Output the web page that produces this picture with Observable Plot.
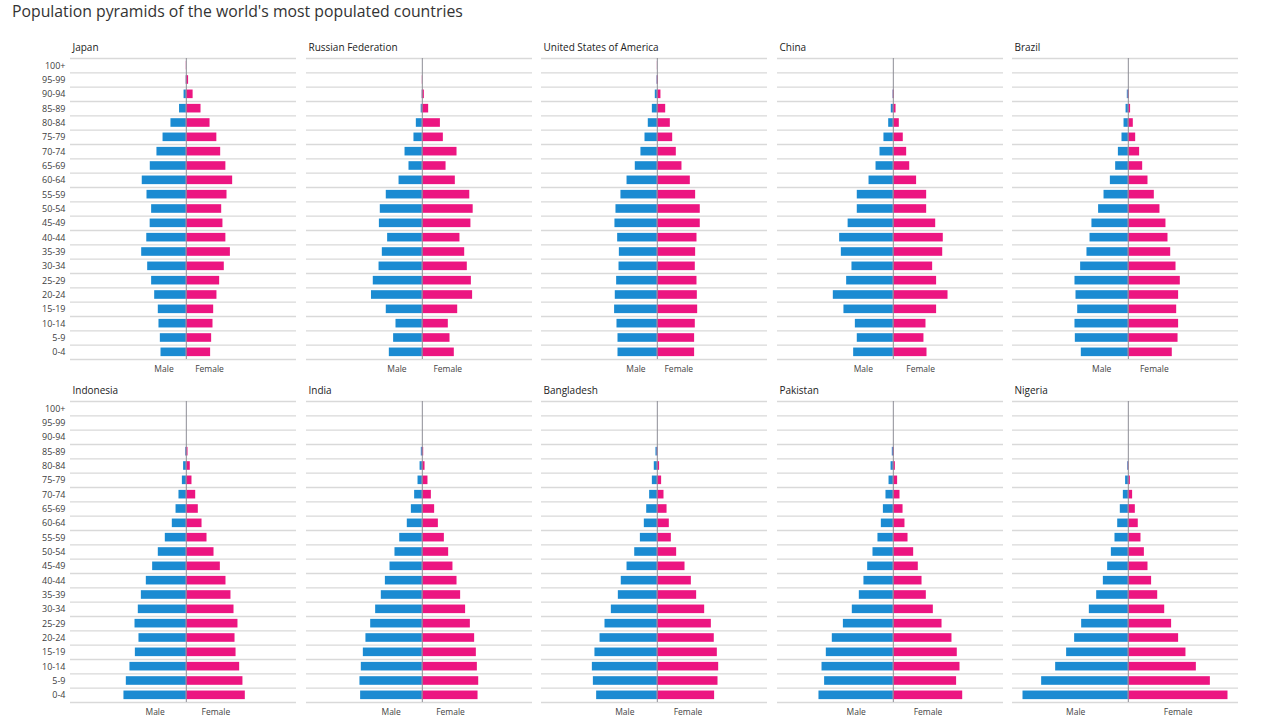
<!DOCTYPE html>
<html><head><meta charset="utf-8">
<script src="https://cdn.jsdelivr.net/npm/d3@7"></script>
<script src="https://cdn.jsdelivr.net/npm/@observablehq/plot@0.6"></script>
<style>
body{margin:0;background:#fff;width:1280px;height:720px;position:relative;overflow:hidden;font-family:"Open Sans",sans-serif}
#title{position:absolute;left:12px;top:0px;font-size:15.8px;color:#333;white-space:nowrap}
</style></head><body>
<div id="title">Population pyramids of the world's most populated countries</div>
<div id="chart"></div>
<script>
// Age groups, bottom (0-4) to top (100+)
const ageGroups = ["0-4","5-9","10-14","15-19","20-24","25-29","30-34","35-39","40-44","45-49","50-54","55-59","60-64","65-69","70-74","75-79","80-84","85-89","90-94","95-99","100+"];
const countries = ["Japan","Russian Federation","United States of America","China","Brazil","Indonesia","India","Bangladesh","Pakistan","Nigeria"];

// Share of total population (%), by age group (0-4 upward)
const japanMale     = [2.24,2.30,2.42,2.48,2.80,3.07,3.42,3.95,3.50,3.20,3.07,3.48,3.90,3.19,2.60,2.06,1.36,0.60,0.20,0.02,0];
const japanFemale   = [2.15,2.24,2.36,2.42,2.71,2.95,3.36,3.90,3.50,3.24,3.13,3.60,4.10,3.50,3.04,2.70,2.10,1.30,0.60,0.20,0.02];
const russiaMale    = [2.92,2.54,2.33,3.19,4.50,4.34,3.83,3.54,3.07,3.80,3.72,3.19,2.06,1.18,1.53,0.74,0.53,0.10,0.02,0,0];
const russiaFemale  = [2.83,2.45,2.30,3.13,4.45,4.34,3.98,3.75,3.33,4.30,4.50,4.20,2.92,2.10,3.07,1.86,1.60,0.56,0.18,0.03,0];
const usaMale       = [3.48,3.48,3.57,3.78,3.72,3.60,3.39,3.36,3.51,3.75,3.66,3.22,2.68,1.95,1.45,1.09,0.80,0.44,0.18,0.03,0];
const usaFemale     = [3.30,3.30,3.36,3.57,3.54,3.51,3.36,3.39,3.51,3.80,3.80,3.39,2.92,2.18,1.68,1.36,1.15,0.74,0.32,0.09,0.01];
const chinaMale     = [3.51,3.19,3.36,4.37,5.31,4.13,3.66,4.60,4.75,4.00,3.19,3.19,2.15,1.53,1.18,0.83,0.41,0.18,0.03,0,0];
const chinaFemale   = [2.98,2.71,2.89,3.83,4.84,3.83,3.48,4.37,4.42,3.75,2.95,2.95,2.06,1.45,1.18,0.88,0.53,0.24,0.09,0,0];
const brazilMale    = [4.16,4.69,4.72,4.48,4.63,4.72,4.22,3.66,3.39,3.22,2.63,2.15,1.59,1.12,0.88,0.56,0.38,0.20,0.09,0,0];
const brazilFemale  = [3.89,4.40,4.45,4.28,4.45,4.60,4.22,3.75,3.51,3.33,2.80,2.30,1.74,1.27,1.00,0.65,0.44,0.20,0.09,0,0];
const indonesiaMale   = [5.52,5.31,4.99,4.51,4.19,4.54,4.25,3.98,3.54,2.98,2.48,1.86,1.24,0.91,0.65,0.35,0.24,0.06,0,0,0];
const indonesiaFemale = [5.22,5.01,4.72,4.40,4.31,4.57,4.22,3.95,3.51,3.01,2.45,1.83,1.39,1.06,0.83,0.50,0.35,0.15,0,0,0];
const indiaMale     = [5.46,5.52,5.40,5.22,4.99,4.57,4.13,3.63,3.27,2.86,2.42,2.00,1.33,0.97,0.68,0.38,0.20,0.09,0,0,0];
const indiaFemale   = [4.93,4.99,4.87,4.78,4.63,4.25,3.83,3.39,3.07,2.71,2.33,1.95,1.42,1.09,0.80,0.50,0.24,0.12,0,0,0];
const bangladeshMale   = [5.37,5.66,5.75,5.52,5.07,4.63,4.07,3.45,3.19,2.68,2.00,1.50,1.15,0.94,0.68,0.44,0.27,0.12,0,0,0];
const bangladeshFemale = [5.07,5.37,5.43,5.31,5.04,4.78,4.19,3.48,3.01,2.45,1.71,1.24,1.06,0.86,0.59,0.38,0.20,0.06,0,0,0];
const pakistanMale  = [6.58,6.08,6.31,5.93,5.40,4.42,3.63,3.01,2.60,2.27,1.80,1.36,1.06,0.88,0.65,0.38,0.20,0.09,0,0,0];
const pakistanFemale= [6.14,5.60,5.90,5.66,5.19,4.31,3.54,2.92,2.54,2.21,1.80,1.30,1.03,0.86,0.59,0.38,0.18,0.09,0,0,0];
const nigeriaMale   = [9.32,7.67,6.43,5.46,4.75,4.13,3.45,2.80,2.21,1.83,1.50,1.18,0.94,0.71,0.44,0.24,0.06,0,0,0,0];
const nigeriaFemale = [8.82,7.26,6.02,5.10,4.45,3.83,3.22,2.60,2.06,1.74,1.42,1.12,0.88,0.62,0.38,0.18,0.06,0,0,0,0];

const maleSeries = [japanMale,russiaMale,usaMale,chinaMale,brazilMale,indonesiaMale,indiaMale,bangladeshMale,pakistanMale,nigeriaMale];
const femaleSeries = [japanFemale,russiaFemale,usaFemale,chinaFemale,brazilFemale,indonesiaFemale,indiaFemale,bangladeshFemale,pakistanFemale,nigeriaFemale];

const maleColor = "#1b8bd2", femaleColor = "#ec1581";
const plotLeft0 = 70, colStep = 235.5, panelW = 226, rowTop = [58, 401], rowH = 301;
const mT = 24, mB = 18;
const n = ageGroups.length;
const chart = document.getElementById("chart");

countries.forEach((name, k) => {
  const col = k % 5, row = Math.floor(k / 5);
  const mL = col === 0 ? 70 : 4, mR = 4;
  const data = ageGroups.map((age, i) => ({age, i, male: maleSeries[k][i], female: femaleSeries[k][i]}));
  const maxM = d3.max(data, d => d.male), maxF = d3.max(data, d => d.female);
  const marks = [
    Plot.ruleY(d3.range(n + 1), {stroke: "#d9d9d9", strokeWidth: 1.3}),
    Plot.rect(data, {x1: 0, x2: d => -d.male, y1: d => d.i + 0.2, y2: d => d.i + 0.8, fill: maleColor}),
    Plot.rect(data, {x1: 0, x2: d => d.female, y1: d => d.i + 0.2, y2: d => d.i + 0.8, fill: femaleColor}),
    Plot.ruleX([0], {y1: 0, y2: n, stroke: "#8e8e96", strokeWidth: 1}),
    Plot.text([name], {frameAnchor: "top-left", dx: 2, dy: -11, textAnchor: "start", lineAnchor: "middle", fontSize: 10, fill: "#222"}),
    Plot.text([{label: "Male", x: -maxM / 2}, {label: "Female", x: maxF / 2}],
      {x: "x", text: "label", frameAnchor: "bottom", dy: 10, lineAnchor: "middle", fontSize: 8.5, fill: "#444"})
  ];
  if (col === 0) {
    marks.push(Plot.axisY({ticks: d3.range(n).map(i => i + 0.5), tickFormat: d => ageGroups[Math.floor(d)],
      tickSize: 0, tickPadding: 5, fontSize: 9, fill: "#404040", label: null}));
  }
  const svg = Plot.plot({
    width: panelW + mL + mR, height: rowH + mT + mB,
    marginLeft: mL, marginRight: mR, marginTop: mT, marginBottom: mB,
    style: {fontFamily: "'Open Sans', sans-serif", fontSize: "10px", background: "transparent", overflow: "visible"},
    x: {domain: [-10.25, 9.75], axis: null},
    y: col === 0 ? {domain: [0, n], label: null} : {domain: [0, n], axis: null},
    marks
  });
  svg.style.position = "absolute";
  svg.style.left = (plotLeft0 + col * colStep - mL) + "px";
  svg.style.top = (rowTop[row] - mT) + "px";
  chart.appendChild(svg);
});
</script>
</body></html>
